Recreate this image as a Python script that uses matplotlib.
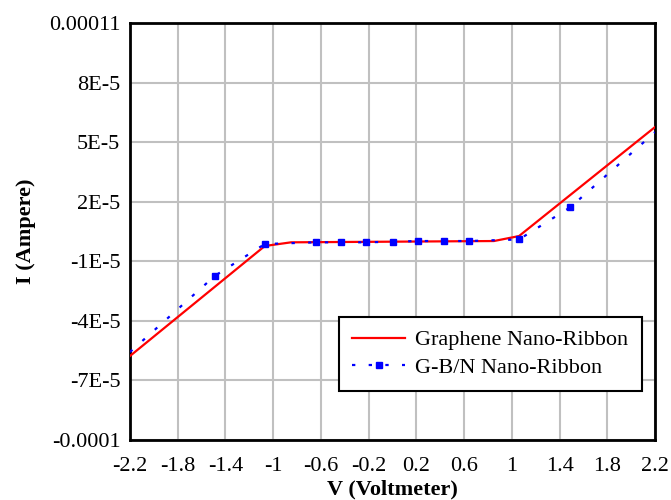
import matplotlib
matplotlib.use("Agg")
import matplotlib.pyplot as plt
from matplotlib.ticker import FixedLocator, FixedFormatter

plt.rcParams['font.family'] = ['Liberation Serif', 'DejaVu Serif']

# Graphene Nano-Ribbon
gnr_v = [-2.2, -1.07, -0.85, 0.85, 1.06, 2.2]
gnr_i = [-5.77e-5, -2.3e-6, -4.5e-7, 2e-7, 2.7e-6, 5.76e-5]

# G-B/N Nano-Ribbon
gbn_v = [-2.2, -1.49, -1.07, -0.64, -0.43, -0.22, 0.0, 0.21, 0.43, 0.64, 1.06, 1.49, 2.2]
gbn_i = [-5.57e-5, -1.74e-5, -1.3e-6, -4.5e-7, -4.5e-7, -4.5e-7, -1.5e-7,
         2e-7, 2e-7, 2e-7, 1.0e-6, 1.72e-5, 5.5e-5]

x_ticks = [-2.2, -1.8, -1.4, -1.0, -0.6, -0.2, 0.2, 0.6, 1.0, 1.4, 1.8, 2.2]
x_labels = ["-2.2", "-1.8", "-1.4", "-1", "-0.6", "-0.2", "0.2", "0.6", "1", "1.4", "1.8", "2.2"]
y_ticks = [1.1e-4, 8e-5, 5e-5, 2e-5, -1e-5, -4e-5, -7e-5, -1e-4]
y_labels = ["0.00011", "8E-5", "5E-5", "2E-5", "-1E-5", "-4E-5", "-7E-5", "-0.0001"]

fig = plt.figure(figsize=(6.71, 5.0), dpi=100)
ax = fig.add_axes([0.1937, 0.12, 0.7825, 0.834])

ax.plot(gnr_v, gnr_i, color='#ff0000', lw=1.6, label='Graphene Nano-Ribbon', zorder=3)
ax.plot(gbn_v, gbn_i, color='#0000ff', lw=1.6, linestyle=(0, (1.5, 6)),
        marker='s', markersize=4.5, markevery=list(range(1, len(gbn_v) - 1)),
        label='G-B/N Nano-Ribbon', zorder=4)

ax.set_xlim(-2.2, 2.2)
ax.set_ylim(-1e-4, 1.1e-4)
ax.xaxis.set_major_locator(FixedLocator(x_ticks))
ax.xaxis.set_major_formatter(FixedFormatter(x_labels))
ax.yaxis.set_major_locator(FixedLocator(y_ticks))
ax.yaxis.set_major_formatter(FixedFormatter(y_labels))
ax.tick_params(axis='y', length=0, labelsize=16, pad=7)
ax.tick_params(axis='x', length=0, labelsize=16, pad=12)
ax.grid(True, color='#c0c0c0', lw=1.5)
ax.set_axisbelow(True)
for s in ax.spines.values():
    s.set_linewidth(2)
    s.set_color('black')

ax.set_xlabel('V (Voltmeter)', fontsize=16, fontweight='bold', labelpad=3)
ax.set_ylabel('I (Ampere)', fontsize=16, fontweight='bold', labelpad=9)

leg = ax.legend(loc='lower right', bbox_to_anchor=(0.975, 0.1175), fontsize=16,
                frameon=True, fancybox=False, framealpha=1, edgecolor='black',
                handlelength=2.4, handletextpad=0.45, borderpad=0.6, labelspacing=0.3,
                borderaxespad=0)
leg.get_frame().set_linewidth(1.5)

fig.savefig('out.png', dpi=100)
